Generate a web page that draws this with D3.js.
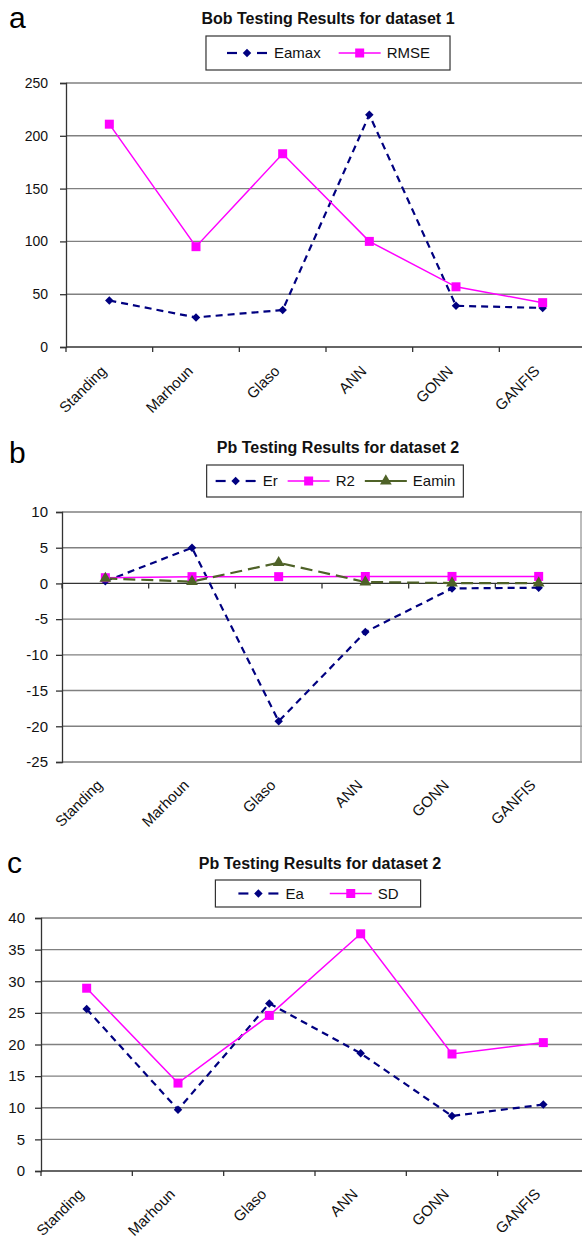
<!DOCTYPE html>
<html>
<head>
<meta charset="utf-8">
<script src="https://cdn.jsdelivr.net/npm/d3@7"></script>
<style>
  html, body { margin: 0; padding: 0; background: #fff; }
  svg { display: block; font-family: Arial, "Liberation Sans", sans-serif; }
</style>
</head>
<body>
<div id="chart"></div>
<script>
'use strict';

// categories shared by all three panels
var categories = ["Standing", "Marhoun", "Glaso", "ANN", "GONN", "GANFIS"];

// panel a
var bobEamax = [44, 28, 35, 220, 39, 37];
var bobRmse = [211, 95, 183, 100, 57, 42];
var ticksA = [0, 50, 100, 150, 200, 250];

// panel b
var pbEr = [0.3, 5.0, -19.3, -6.8, -0.7, -0.6];
var pbR2 = [0.8, 0.95, 0.95, 0.97, 0.98, 0.98];
var pbEamin = [0.7, 0.25, 2.9, 0.2, 0.05, 0.05];
var ticksB = [-25, -20, -15, -10, -5, 0, 5, 10];

// panel c
var pbEa = [25.6, 9.7, 26.5, 18.6, 8.7, 10.5];
var pbSd = [28.9, 13.9, 24.6, 37.5, 18.5, 20.3];
var ticksC = [0, 5, 10, 15, 20, 25, 30, 35, 40];

var NAVY = "#000080", MAGENTA = "#ff00ff", OLIVE = "#4f6228";

var styles = {
  navy:    { color: NAVY, dash: "7,5", width: 2.2, marker: "diamond" },
  magenta: { color: MAGENTA, dash: null, width: 1.5, marker: "square" },
  olive:   { color: OLIVE, dash: "12,6", width: 2.2, marker: "triangle" }
};

var svg = d3.select("#chart").append("svg")
    .attr("width", 582)
    .attr("height", 1240);

function markerPath(type) {
  if (type === "diamond") return d3.symbol(d3.symbolSquare, 36)();
  if (type === "square") return d3.symbol(d3.symbolSquare, 81)();
  return d3.symbol(d3.symbolTriangle, 60)();
}

function drawMarker(g, type, color, x, y) {
  g.append("path")
    .attr("d", markerPath(type))
    .attr("fill", color)
    .attr("transform", "translate(" + x + "," + y + ")" + (type === "diamond" ? " rotate(45)" : ""));
}

function drawPanel(opt) {
  var g = svg.append("g");

  var x = d3.scaleBand().domain(categories).range([opt.left, opt.right]);
  var y = d3.scaleLinear().domain(d3.extent(opt.ticks)).range([opt.bottom, opt.top]);

  // panel letter + title
  g.append("text")
    .attr("x", opt.letter[1]).attr("y", opt.letter[2])
    .style("font-size", "30px")
    .text(opt.letter[0]);

  g.append("text")
    .attr("x", opt.titleX).attr("y", opt.titleY)
    .attr("text-anchor", "middle")
    .style("font-size", "16px")
    .style("font-weight", "bold")
    .attr("fill", "#111")
    .text(opt.title);

  // grid lines
  g.append("g").selectAll("line")
    .data(opt.ticks.filter(function(t){ return t !== opt.cross; }))
    .join("line")
      .attr("x1", opt.left).attr("x2", opt.right)
      .attr("y1", function(d){ return y(d); })
      .attr("y2", function(d){ return y(d); })
      .attr("stroke", "#808080")
      .attr("stroke-width", 1.4);

  if (opt.border) {
    g.append("line")
      .attr("x1", opt.right - 1).attr("x2", opt.right - 1)
      .attr("y1", opt.top).attr("y2", opt.bottom)
      .attr("stroke", "#9a9a9a").attr("stroke-width", 1.3);
  }

  // y axis
  var yAxis = d3.axisLeft(y)
    .tickValues(opt.ticks)
    .tickFormat(function(d){ return String(d); })
    .tickSize(6)
    .tickPadding(opt.tickPad);
  var ya = g.append("g")
    .attr("transform", "translate(" + opt.left + ",0)")
    .call(yAxis);
  ya.selectAll("path, line").attr("stroke", "#333").attr("stroke-width", 1.3);
  ya.selectAll("text").style("font-size", opt.tickFont).attr("fill", "#111").attr("font-family", null);

  // x axis line at the crossing value, ticks on band edges
  var cy = y(opt.cross);
  g.append("line")
    .attr("x1", opt.left).attr("x2", opt.right)
    .attr("y1", cy).attr("y2", cy)
    .attr("stroke", "#333").attr("stroke-width", 1.3);
  g.append("g").selectAll("line")
    .data(categories)
    .join("line")
      .attr("x1", function(d){ return x(d); })
      .attr("x2", function(d){ return x(d); })
      .attr("y1", cy).attr("y2", cy + 5)
      .attr("stroke", "#333").attr("stroke-width", 1.3);

  // category labels, rotated
  g.append("g").selectAll("text")
    .data(categories)
    .join("text")
      .attr("text-anchor", "end")
      .attr("transform", function(d){
        return "translate(" + (x(d) + x.bandwidth() / 2 - 2) + "," + (opt.labelY) + ") rotate(-45)";
      })
      .style("font-size", "15px")
      .attr("fill", "#111")
      .text(function(d){ return d; });

  // series
  var line = d3.line()
    .x(function(d, i){ return x(categories[i]) + x.bandwidth() / 2; })
    .y(function(d){ return y(d); });

  opt.series.forEach(function(s){
    var st = styles[s.style];
    g.append("path")
      .attr("d", line(s.values))
      .attr("fill", "none")
      .attr("stroke", st.color)
      .attr("stroke-width", st.width)
      .attr("stroke-dasharray", st.dash);
  });
  opt.series.forEach(function(s){
    var st = styles[s.style];
    s.values.forEach(function(v, i){
      drawMarker(g, st.marker, st.color, x(categories[i]) + x.bandwidth() / 2, y(v));
    });
  });

  // legend
  var lg = g.append("g");
  var box = lg.append("rect")
    .attr("fill", "#fff").attr("stroke", "#333").attr("stroke-width", 1.2);
  var cursor = opt.legend.pad;
  var ty = opt.legend.y + opt.legend.h / 2;
  opt.series.forEach(function(s, k){
    var st = styles[s.style];
    if (s.style === "navy") {
      // short dash, marker, short dash
      [[cursor + 1, cursor + 11], [cursor + 31, cursor + 41]].forEach(function(seg){
        lg.append("line")
          .attr("x1", seg[0]).attr("x2", seg[1])
          .attr("y1", ty).attr("y2", ty)
          .attr("stroke", st.color).attr("stroke-width", st.width);
      });
    } else {
      lg.append("line")
        .attr("x1", cursor).attr("x2", cursor + 42)
        .attr("y1", ty).attr("y2", ty)
        .attr("stroke", st.color).attr("stroke-width", st.width);
    }
    drawMarker(lg, st.marker, st.color, cursor + 21, ty);
    var t = lg.append("text")
      .attr("x", cursor + 48).attr("y", ty + 5)
      .style("font-size", "15px")
      .attr("fill", "#111")
      .text(s.name);
    cursor += 48 + t.node().getComputedTextLength();
    if (k < opt.series.length - 1) cursor += opt.legend.gap;
  });
  cursor += opt.legend.pad;
  var x0 = opt.legend.cx - cursor / 2;
  lg.attr("transform", "translate(" + x0 + ",0)");
  box.attr("x", 0).attr("y", opt.legend.y).attr("width", cursor).attr("height", opt.legend.h);
}

drawPanel({
  letter: ["a", 9, 28],
  title: "Bob Testing Results for dataset 1",
  titleX: 328, titleY: 24,
  legend: { cx: 328, y: 36, h: 34, pad: 20, gap: 18 },
  left: 66, right: 586, top: 83, bottom: 347,
  ticks: ticksA, cross: 0, labelY: 372, tickPad: 12, tickFont: "14px",
  series: [
    { name: "Eamax", values: bobEamax, style: "navy" },
    { name: "RMSE", values: bobRmse, style: "magenta" }
  ]
});

drawPanel({
  letter: ["b", 9, 463],
  title: "Pb Testing Results for dataset 2",
  titleX: 338, titleY: 453,
  legend: { cx: 335, y: 465, h: 32, pad: 8, gap: 10 },
  left: 62, right: 582, top: 512, bottom: 762,
  ticks: ticksB, cross: 0, labelY: 786, border: true, tickPad: 8, tickFont: "15px",
  series: [
    { name: "Er", values: pbEr, style: "navy" },
    { name: "R2", values: pbR2, style: "magenta" },
    { name: "Eamin", values: pbEamin, style: "olive" }
  ]
});

drawPanel({
  letter: ["c", 7, 873],
  title: "Pb Testing Results for dataset 2",
  titleX: 320, titleY: 869,
  legend: { cx: 318, y: 880, h: 27, pad: 22, gap: 26 },
  left: 41, right: 589, top: 918, bottom: 1171,
  ticks: ticksC, cross: 0, labelY: 1195, tickPad: 10, tickFont: "15px",
  series: [
    { name: "Ea", values: pbEa, style: "navy" },
    { name: "SD", values: pbSd, style: "magenta" }
  ]
});
</script>
</body>
</html>
